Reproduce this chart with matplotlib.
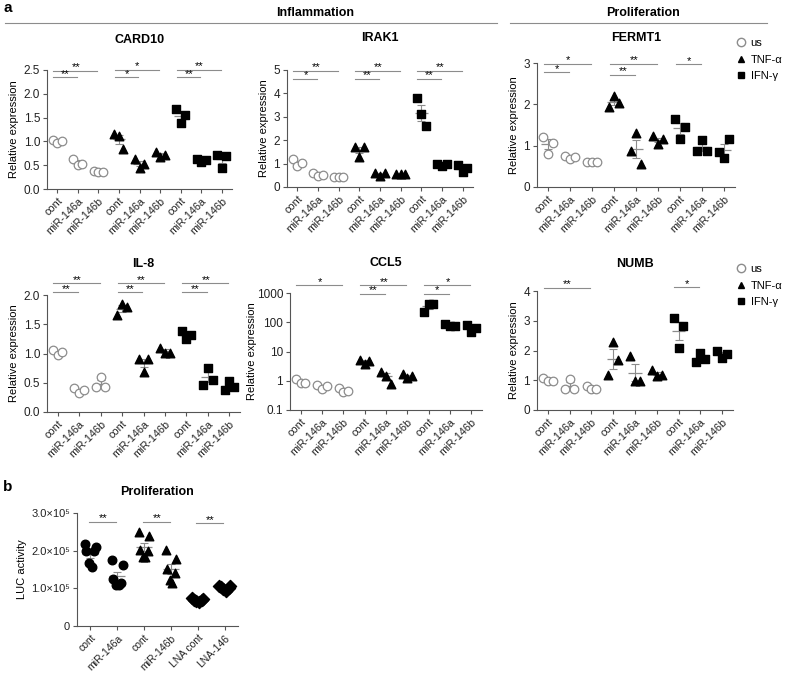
import numpy as np
import matplotlib.pyplot as plt
from matplotlib.lines import Line2D

plt.rcParams['font.family'] = ['Liberation Sans', 'DejaVu Sans']

W, H = 800, 675

cats = ['cont', 'miR-146a', 'miR-146b'] * 3
groups = ['us', 'TNF-α', 'IFN-γ']

# три точки на каждую категорию (us x3, TNF x3, IFN x3)
card10 = [[1.03, 0.96, 1.00], [0.64, 0.50, 0.53], [0.38, 0.35, 0.35],
          [1.15, 1.12, 0.85], [0.62, 0.45, 0.52], [0.78, 0.68, 0.72],
          [1.68, 1.38, 1.55], [0.62, 0.57, 0.61], [0.72, 0.45, 0.70]]
irak1 = [[1.20, 0.88, 1.02], [0.60, 0.48, 0.50], [0.42, 0.42, 0.42],
         [1.72, 1.30, 1.70], [0.58, 0.48, 0.58], [0.55, 0.55, 0.55],
         [3.80, 3.10, 2.60], [0.98, 0.88, 0.98], [0.92, 0.65, 0.80]]
fermt1 = [[1.22, 0.81, 1.07], [0.75, 0.67, 0.73], [0.60, 0.60, 0.60],
          [1.93, 2.19, 2.04], [0.88, 1.31, 0.55], [1.23, 1.04, 1.15],
          [1.64, 1.15, 1.46], [0.88, 1.14, 0.88], [0.85, 0.71, 1.15]]
il8 = [[1.06, 0.97, 1.02], [0.41, 0.33, 0.38], [0.43, 0.60, 0.42],
       [1.66, 1.85, 1.79], [0.91, 0.69, 0.91], [1.10, 1.01, 1.01],
       [1.38, 1.24, 1.31], [0.47, 0.76, 0.55], [0.37, 0.53, 0.42]]
ccl5 = [[1.19, 0.83, 0.87], [0.72, 0.51, 0.67], [0.56, 0.40, 0.46],
        [5.2, 3.8, 4.8], [2.06, 1.5, 0.78], [1.7, 1.2, 1.4],
        [217, 430, 430], [86, 76, 76], [82, 45, 63]]
numb = [[1.07, 0.96, 0.96], [0.70, 1.05, 0.70], [0.79, 0.70, 0.70],
        [1.16, 2.30, 1.69], [1.82, 0.96, 0.99], [1.33, 1.15, 1.18],
        [3.09, 2.08, 2.81], [1.60, 1.91, 1.71], [1.97, 1.75, 1.89]]

# значимость: (от, до, уровень, метка)
sig_card10 = [(0, 1, 2.35, '**'), (0, 2, 2.48, '**'), (3, 4, 2.35, '*'), (3, 5, 2.5, '*'),
              (6, 7, 2.35, '**'), (6, 8, 2.5, '**')]
sig_irak1 = [(0, 1, 4.62, '*'), (0, 2, 4.96, '**'), (3, 4, 4.62, '**'), (3, 5, 4.96, '**'),
             (6, 7, 4.62, '**'), (6, 8, 4.96, '**')]
sig_fermt1 = [(0, 1, 2.78, '*'), (0, 2, 2.98, '*'), (3, 4, 2.72, '**'), (3, 5, 2.98, '**'),
              (6, 7, 2.97, '*')]
sig_il8 = [(0, 1, 2.05, '**'), (0, 2, 2.2, '**'), (3, 4, 2.05, '**'), (3, 5, 2.2, '**'),
           (6, 7, 2.05, '**'), (6, 8, 2.2, '**')]
sig_ccl5 = [(0, 2, 1860, '*'), (3, 4, 930, '**'), (3, 5, 1860, '**'), (6, 7, 930, '*'),
            (6, 8, 1860, '*')]
sig_numb = [(0, 2, 4.1, '**'), (6, 7, 4.12, '*')]

# панель b
b_cats = ['cont', 'miR-146a', 'cont', 'miR-146b', 'LNA cont', 'LNA-146']
b_vals = [[2.19, 2.10, 1.99, 1.99, 1.66, 1.57],
          [1.74, 1.63, 1.25, 1.15, 1.08, 1.10],
          [2.49, 2.38, 2.03, 1.99, 1.84, 1.84],
          [2.01, 1.77, 1.52, 1.41, 1.22, 1.13],
          [0.75, 0.72, 0.70, 0.68, 0.66, 0.65],
          [1.07, 1.05, 1.04, 1.02, 0.98, 0.93]]
b_sig = [(0, 1, 2.76e5, '**'), (2, 3, 2.76e5, '**'), (4, 5, 2.73e5, '**')]

GRAY = '#8c8c8c'
AX = '#555555'

fig = plt.figure(figsize=(8, 6.75), dpi=100)


def add_ax(l, t, r, b):
    return fig.add_axes([l / W, 1 - b / H, (r - l) / W, (b - t) / H])


def style(ax):
    for s in ['top', 'right']:
        ax.spines[s].set_visible(False)
    for s in ['left', 'bottom']:
        ax.spines[s].set_color(AX)
        ax.spines[s].set_linewidth(0.8)
    ax.tick_params(colors=AX, length=3, width=0.8, labelcolor='#222222', pad=2)


def marker_kw(g):
    if g == 0:
        return dict(marker='o', facecolor='white', edgecolor=GRAY, linewidths=0.9, s=38)
    if g == 1:
        return dict(marker='^', color='black', s=38)
    return dict(marker='s', color='black', s=36)


def draw_sig(ax, sigs, start=-0.2):
    for a, b, y, lab in sigs:
        ax.plot([a + start, b - 0.05], [y, y], color=GRAY, lw=0.8, clip_on=False)
        ax.annotate(lab, ((a + start + b) / 2, y), xytext=(0, 2.5), textcoords='offset points',
                    ha='center', va='center', fontsize=8, annotation_clip=False)


def gene_panel(box, title, ty, data, sigs, ylim, yticks, ylabels, log=False, lpad=3):
    ax = add_ax(*box)
    style(ax)
    offs = [-0.22, 0.0, 0.22]
    for i, vals in enumerate(data):
        g = i // 3
        vals = np.array(vals)
        m = vals.mean()
        sem = vals.std(ddof=1) / np.sqrt(len(vals))
        ax.hlines(m, i - 0.3, i + 0.3, color=GRAY, lw=0.9, zorder=2)
        lo = min(sem, m * 0.9) if log else sem
        ax.errorbar(i, m, yerr=[[lo], [sem]], fmt='none', ecolor=GRAY, elinewidth=0.8,
                    capsize=3, capthick=0.8, zorder=2)
        ax.scatter(i + np.array(offs), vals, zorder=3, **marker_kw(g))
    if log:
        ax.set_yscale('log')
    ax.set_ylim(*ylim)
    ax.set_yticks(yticks)
    ax.set_yticklabels(ylabels, fontsize=8.5)
    ax.minorticks_off()
    ax.set_xlim(-0.5, 8.5)
    ax.set_xticks(range(9))
    ax.set_xticklabels(cats, rotation=45, ha='right', rotation_mode='anchor', fontsize=7.8)
    ax.set_ylabel('Relative expression', fontsize=8, labelpad=lpad)
    draw_sig(ax, sigs)
    cx = (box[0] + box[2]) / 2
    fig.text(cx / W, 1 - ty / H, title, ha='center', va='center',
             fontsize=9, fontweight='bold')
    return ax


gene_panel((47, 70, 232, 189), 'CARD10', 40, card10, sig_card10, (0, 2.5),
           [0, 0.5, 1, 1.5, 2, 2.5], ['0.0', '0.5', '1.0', '1.5', '2.0', '2.5'])
gene_panel((287, 70, 473, 187), 'IRAK1', 38, irak1, sig_irak1, (0, 5),
           [0, 1, 2, 3, 4, 5], ['0', '1', '2', '3', '4', '5'])
gene_panel((537, 63, 735, 187), 'FERMT1', 38, fermt1, sig_fermt1, (0, 3),
           [0, 1, 2, 3], ['0', '1', '2', '3'])
gene_panel((47, 295, 240, 412), 'IL-8', 264, il8, sig_il8, (0, 2),
           [0, 0.5, 1, 1.5, 2], ['0.0', '0.5', '1.0', '1.5', '2.0'])
gene_panel((290, 293, 482, 410), 'CCL5', 263, ccl5, sig_ccl5, (0.1, 1000),
           [0.1, 1, 10, 100, 1000], ['0.1', '1', '10', '100', '1000'], log=True, lpad=0)
gene_panel((537, 291, 733, 410), 'NUMB', 264, numb, sig_numb, (0, 4),
           [0, 1, 2, 3, 4], ['0', '1', '2', '3', '4'])

# легенды
handles = [Line2D([], [], ls='none', marker='o', mfc='white', mec=GRAY, ms=6),
           Line2D([], [], ls='none', marker='^', color='black', ms=5),
           Line2D([], [], ls='none', marker='s', color='black', ms=5)]
for ytop in (38, 264):
    fig.legend(handles, groups, loc='upper left', bbox_to_anchor=(735 / W, 1 - ytop / H),
               frameon=False, fontsize=8, handletextpad=0.4, labelspacing=0.6,
               handlelength=1.0, borderpad=0, borderaxespad=0)

# заголовки секций
fig.text(3 / W, 1 - 8 / H, 'a', fontsize=11, fontweight='bold', va='center')
fig.text(3 / W, 1 - 487 / H, 'b', fontsize=11, fontweight='bold', va='center')
fig.text(315 / W, 1 - 13 / H, 'Inflammation', fontsize=9, fontweight='bold', ha='center', va='center')
fig.text(643 / W, 1 - 13 / H, 'Proliferation', fontsize=9, fontweight='bold', ha='center', va='center')
fig.add_artist(Line2D([5 / W, 497 / W], [1 - 23 / H] * 2, color=GRAY, lw=0.8))
fig.add_artist(Line2D([510 / W, 767 / W], [1 - 23 / H] * 2, color=GRAY, lw=0.8))

# панель b
axb = add_ax(77, 513, 238, 626)
style(axb)
b_markers = ['o', 'o', '^', '^', 'D', 'D']
for i, vals in enumerate(b_vals):
    vals = np.array(vals) * 1e5
    n = len(vals)
    offs = np.array([-0.2, 0.2, -0.15, 0.15, -0.05, 0.05])
    m = vals.mean()
    sem = vals.std(ddof=1) / np.sqrt(n)
    axb.hlines(m, i - 0.3, i + 0.3, color=GRAY, lw=0.9, zorder=2)
    axb.errorbar(i, m, yerr=sem, fmt='none', ecolor=GRAY, elinewidth=0.8,
                 capsize=3, capthick=0.8, zorder=2)
    axb.scatter(i + offs, vals, marker=b_markers[i], color='black', s=38, zorder=3)
axb.set_xlim(-0.5, 5.5)
axb.set_ylim(0, 3e5)
axb.set_yticks([0, 1e5, 2e5, 3e5])
axb.set_yticklabels(['0', '1.0×10⁵', '2.0×10⁵', '3.0×10⁵'], fontsize=8)
axb.set_xticks(range(6))
axb.set_xticklabels(b_cats, rotation=45, ha='right', rotation_mode='anchor', fontsize=7.5)
axb.set_ylabel('LUC activity', fontsize=8, labelpad=3)
draw_sig(axb, b_sig, start=-0.05)
fig.text(157 / W, 1 - 492 / H, 'Proliferation', fontsize=9, fontweight='bold', ha='center', va='center')

fig.savefig('out.png', dpi=100)
